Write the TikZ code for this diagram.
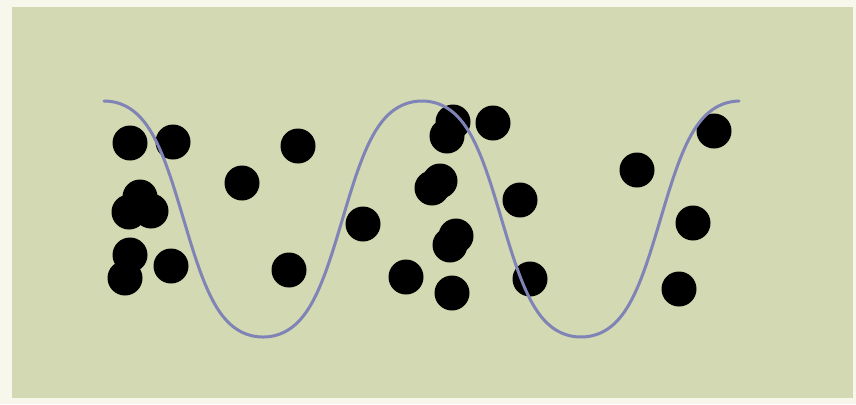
\documentclass[tikz,border=0pt]{standalone}
\begin{document}
\begin{tikzpicture}[x=0.5pt,y=-0.5pt,
  dot/.style={circle,fill=black,inner sep=0pt,minimum size=17.5pt},
  wave/.style={draw=wavecol,line width=1.5pt,line cap=round}]
\definecolor{margincol}{HTML}{F7F7EC}
\definecolor{bgcol}{HTML}{D3D9B2}
\definecolor{wavecol}{HTML}{7F83B5}
\fill[margincol] (0,0) rectangle (856,404);
\fill[bgcol] (12,7) rectangle (853,398);
\useasboundingbox (0,0) rectangle (856,404);
\node[dot] (d1) at (130,143) {};
\node[dot] (d2) at (173,142) {};
\node[dot] (d3) at (140,197) {};
\node[dot] (d4) at (129,212) {};
\node[dot] (d5) at (151,211) {};
\node[dot] (d6) at (130,255) {};
\node[dot] (d7) at (125,278) {};
\node[dot] (d8) at (171,266) {};
\node[dot] (d9) at (242,183) {};
\node[dot] (d10) at (298,146) {};
\node[dot] (d11) at (289,270) {};
\node[dot] (d12) at (363,224) {};
\node[dot] (d13) at (406,277) {};
\node[dot] (d14) at (453,122) {};
\node[dot] (d15) at (447,136) {};
\node[dot] (d16) at (493,123) {};
\node[dot] (d17) at (432,188) {};
\node[dot] (d18) at (440,181) {};
\node[dot] (d19) at (520,200) {};
\node[dot] (d20) at (456,236) {};
\node[dot] (d21) at (450,245) {};
\node[dot] (d22) at (452,293) {};
\node[dot] (d23) at (530,279) {};
\node[dot] (d24) at (637,170) {};
\node[dot] (d25) at (714,131) {};
\node[dot] (d26) at (693,223) {};
\node[dot] (d27) at (679,289) {};
\draw[wave] plot[domain=104:739,samples=240,smooth]
  (\x,{219-118*tanh(1.2*cos((\x-104)/318*360))/tanh(1.2)});
\end{tikzpicture}
\end{document}
